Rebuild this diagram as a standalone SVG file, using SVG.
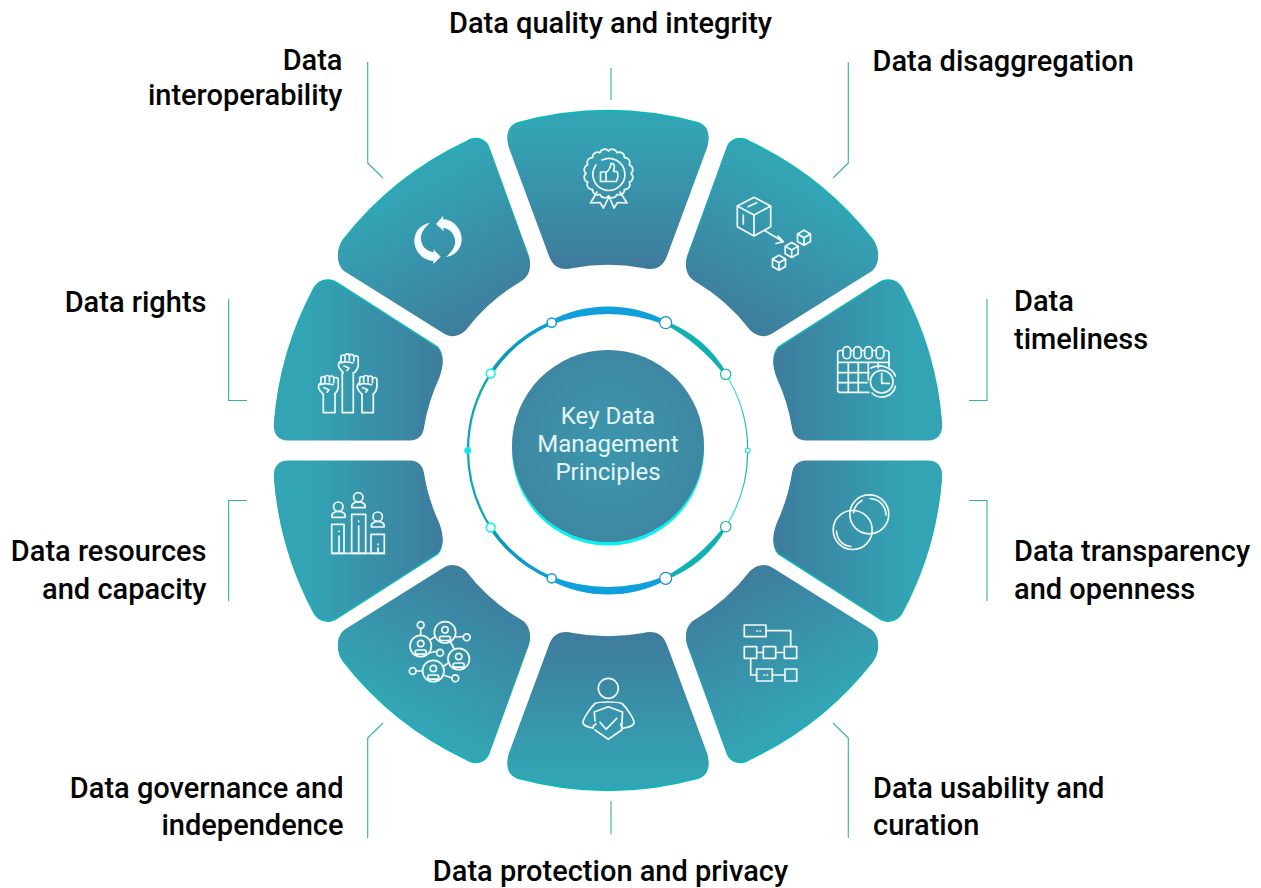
<svg xmlns="http://www.w3.org/2000/svg" xmlns:xlink="http://www.w3.org/1999/xlink" width="1261" height="888" viewBox="0 0 1261 888">
<style>
.lb{font-family:Roboto,"Liberation Sans",sans-serif;font-weight:500;font-size:29px;fill:#050505}
.e{text-anchor:end}.m{text-anchor:middle}
.ct{font-family:Roboto,"Liberation Sans",sans-serif;font-size:24px;fill:#e4f6f7;text-anchor:middle}
.rim{fill:#10b5b8}
.ic{fill:none;stroke:#f1fafa;stroke-width:1.7;stroke-linejoin:round;stroke-linecap:round}
.icf{fill:#f6fbfb;stroke:none}
.ld{fill:none;stroke:#35abb2;stroke-width:1.1}
.nd{fill:#fff}
</style>
<defs>
<linearGradient id="gA" x1="0" y1="0" x2="0" y2="1"><stop offset="0.1" stop-color="#33a4b4"/><stop offset="1" stop-color="#3f7a9c"/></linearGradient>
<linearGradient id="gB" x1="0.75" y1="0.2" x2="0.3" y2="1"><stop offset="0.1" stop-color="#33a5b4"/><stop offset="1" stop-color="#3f7b9c"/></linearGradient>
<linearGradient id="gC" x1="1" y1="0" x2="0" y2="0"><stop offset="0.2" stop-color="#33a4b4"/><stop offset="1" stop-color="#3e7c9d"/></linearGradient>
<radialGradient id="gM"><stop offset="0" stop-color="#3c97ad"/><stop offset="1" stop-color="#3e87a3"/></radialGradient>
<linearGradient id="gBlue" gradientUnits="userSpaceOnUse" x1="552" y1="322" x2="491" y2="374"><stop offset="0" stop-color="#0e9dd8"/><stop offset="1" stop-color="#0f98b4"/></linearGradient>
<linearGradient id="gThin" gradientUnits="userSpaceOnUse" x1="726" y1="374" x2="748" y2="450"><stop offset="0" stop-color="#3ceaea"/><stop offset="1" stop-color="#1ba5ab"/></linearGradient>
<path id="segA" d="M509 147C505 134 509 126 518 123A343 343 0 0 1 698 123C707 126 711 134 707 147L667 255C663 266 655 270 643 267A188 188 0 0 0 573 267C561 270 553 266 549 255Z"/>
<path id="segB" d="M687 257L727 147C731 139 741 136 750 142A340 340 0 0 1 873 240C880 250 880 263 872 270L773 332C766 337 757 336 750 329A190 190 0 0 0 696 281C688 277 684 268 687 257Z"/>
<path id="segC" d="M778 348L878 284C886 278 898 280 903 290A340 340 0 0 1 942 423C943 433 938 440 928 440L806 440C798 440 793 435 792 427A190 190 0 0 0 777 378C773 368 771 356 778 348Z"/>
<g id="fA"><use href="#segA" class="rim" y="-1"/><use href="#segA" fill="url(#gA)" y="1"/></g>
<g id="fB"><use href="#segB" class="rim" y="-1"/><use href="#segB" fill="url(#gB)" y="1"/></g>
<g id="fC"><use href="#segC" class="rim" y="-1.500"/><use href="#segC" fill="url(#gC)" y="0.500"/></g>
<g id="miniCube"><path d="M0 -7.500L6.500 -3.700V3.700L0 7.500L-6.500 3.700V-3.700ZM-6.500 -3.700L0 0L6.500 -3.700M0 0V7.500"/></g>
<g id="fist"><path d="M3 7V3a2 2 0 0 1 4 0V7M7 6V2a2.200 2.200 0 0 1 4.400 0V6M11.400 6V2.500a2.200 2.200 0 0 1 4.400 0V7M15.800 6V4a2.200 2.200 0 0 1 4.400 0V11C20.200 15 18 17 16.500 18.500M3 7C1 8 .5 9 .5 11C.5 14 3 16 5.300 18.500M3 9C6 7 11 8 15 9M6 12L11 14L9 16.500"/></g>
<g id="netP"><circle r="10.700"/><circle cy="-2.500" r="3.200"/><rect x="-5.500" y="4" width="11" height="4.200" rx="2"/></g>
</defs>

<g id="connectors">
<path class="ld" d="M611 68V100"/>
<path class="ld" d="M848.300 62V163L833 178"/>
<path class="ld" d="M367.700 62V163L383 178"/>
<path class="ld" d="M987 299V400.500H969"/>
<path class="ld" d="M228.700 299V400.500H247"/>
<path class="ld" d="M969 500.500H987V601"/>
<path class="ld" d="M247 500.500H228.700V601"/>
<path class="ld" d="M833 723L848.300 738V838"/>
<path class="ld" d="M383 723L367.700 738V838"/>
<path class="ld" d="M611 801V834"/>
</g>

<g id="node-quality">
<use href="#fA"/>
<g class="ic">
<path d="M631 173.500A5 5 0 0 1 629.300 182.100A5 5 0 0 1 624.400 189.400A5 5 0 0 1 617.100 194.300A5 5 0 0 1 608.500 196A5 5 0 0 1 599.900 194.300A5 5 0 0 1 592.600 189.400A5 5 0 0 1 587.700 182.100A5 5 0 0 1 586 173.500A5 5 0 0 1 587.700 164.900A5 5 0 0 1 592.600 157.600A5 5 0 0 1 599.900 152.700A5 5 0 0 1 608.500 151A5 5 0 0 1 617.100 152.700A5 5 0 0 1 624.400 157.600A5 5 0 0 1 629.300 164.900A5 5 0 0 1 631 173.500Z"/>
<path d="M602 160A16 16 0 1 1 596 165"/>
<path d="M600.500 172H606V181.500H600.500ZM606 172.500C610 170 610.500 167 611 163.500C614 163 615 166 614 169L613.500 171.500H617C618.500 173 618 180 616 181.500H606"/>
<path d="M597 192L590.500 203L600 202.500L603.500 208L609 196.500M620 192L627 203L617.500 202.500L614 208L609 196.500"/>
</g>
</g>

<g id="node-disaggregation">
<use href="#fB"/>
<g class="ic">
<path d="M754 197.300L770.700 206V226.700L754 236L737.300 226.700V206ZM737.300 206L754 215L770.700 206M754 215V236"/>
<path d="M748 206.700L756.700 202.700M743.300 215V224M765 230.700L783.300 241.700M778 236L783.300 241.700L776 243.500"/>
<use href="#miniCube" x="804" y="237.700"/>
<use href="#miniCube" x="791.700" y="250"/>
<use href="#miniCube" x="779" y="262.700"/>
</g>
</g>

<g id="node-timeliness">
<use href="#fC"/>
<g class="ic" stroke-width="1.5">
<path d="M842.500 350.500H840C838.500 350.500 837.700 352 837.700 353V390C837.700 391.500 838.700 392.300 840 392.300H869M889 367V353C889 352 888 350.500 886.500 350.500H884"/>
<path d="M851 350.500H853.500M861.500 350.500H864.500M872.500 350.500H876"/>
<rect x="843" y="346.700" width="7.600" height="12" rx="3.800"/>
<rect x="853.700" y="346.700" width="7.600" height="12" rx="3.800"/>
<rect x="864.600" y="346.700" width="7.600" height="12" rx="3.800"/>
<rect x="876.200" y="346.700" width="7.600" height="12" rx="3.800"/>
<path d="M837.700 362.300H889M837.700 372.700H869M837.700 382.700H867M848.300 362.300V392M858.300 362.300V392M868.300 362.300V380M878.300 362.300V368"/>
<circle cx="881.700" cy="381.700" r="11.300"/>
<path d="M881.700 373.300V383.300H889.300M871 368A17 15 0 0 1 895.500 376M895.500 386A14 14 0 0 1 872 393"/>
</g>
</g>

<g id="node-transparency">
<use href="#fC" transform="translate(0,901) scale(1,-1)"/>
<g class="ic" stroke-width="1.5">
<circle cx="869.300" cy="514.300" r="19.500"/>
<circle cx="852.700" cy="530" r="19.500"/>
<path d="M853.500 513A16.500 16.500 0 0 1 862 500.500M870 498.500C880 499 886 507 886 515M836.500 531C837 540 843 546 851 546.500"/>
</g>
</g>

<g id="node-usability">
<use href="#fB" transform="translate(0,901) scale(1,-1)"/>
<g class="ic">
<rect x="744.300" y="625" width="21.700" height="11.700"/>
<path d="M766 630.700H790.700V646.700M756.700 652.500H763.300M775.700 652.500H784.300M750.700 658.300V675H756.700M772.300 675H785M757 631H757.500M760 631H760.500M764 675H764.500M767 675H767.500"/>
<rect x="744.300" y="646.700" width="12.400" height="11.600"/>
<rect x="763.300" y="646.700" width="12.400" height="11.600"/>
<rect x="784.300" y="646.700" width="12.400" height="11.600"/>
<rect x="756.700" y="669" width="15.600" height="12"/>
<rect x="785" y="669" width="11.700" height="12"/>
</g>
</g>

<g id="node-protection">
<use href="#fA" transform="translate(0,901) scale(1,-1)"/>
<g class="ic">
<circle cx="608.300" cy="688.300" r="10"/>
<path d="M593 728C588 727 583 726 583 722.500C583 719 590 708 595 703.500C597 702.500 600 702 608.300 702C616 702 620 702.500 622 703.500C627 708 634 719 634 722.500C634 726 629 727 624 728C622 729 621.500 727 620.500 724"/>
<path d="M596 724C594 725 593 727 593 728M595 721L594.300 712L608.300 706.700L622.500 712L621.700 730L608.300 739.300L595 730"/>
<path d="M600 722.300L606 729.300L616.700 718.300"/>
</g>
</g>

<g id="node-governance">
<use href="#fB" transform="translate(1216,901) scale(-1,-1)"/>
<g class="ic">
<use href="#netP" x="445" y="632.300"/>
<use href="#netP" x="420.700" y="646"/>
<use href="#netP" x="458.700" y="659"/>
<use href="#netP" x="433.300" y="671"/>
<circle cx="420.700" cy="625" r="3.400"/>
<circle cx="466.700" cy="637.300" r="3.400"/>
<circle cx="440" cy="652.700" r="3.400"/>
<circle cx="412.700" cy="671" r="3.400"/>
<circle cx="455.300" cy="678.300" r="3.400"/>
<path d="M420.700 628.400V635.300M455 637L463.300 636.500M430 640L435.500 636.500M429 653L437.500 651M450.500 642L454 648.500M444 666L449 662.500M416 671H422.500M443 675L452 678"/>
</g>
</g>

<g id="node-resources">
<use href="#fC" transform="translate(1216,901) scale(-1,-1)"/>
<g class="ic">
<rect x="331.700" y="524.300" width="12.300" height="29"/>
<rect x="351.700" y="514.300" width="14" height="39"/>
<rect x="371" y="534.300" width="13.300" height="19"/>
<path d="M331.700 553.300H384.300M339 536V552M358.700 526V552M378 548V552M339 531V531.500M358.700 521V521.500M378 544V544.500"/>
<circle cx="338.300" cy="506.700" r="4.700"/><path d="M332 517.300C331 513 335 511.500 338.300 511.500C342 511.500 346 513 345 517.300Z"/>
<circle cx="358.300" cy="497.300" r="4.700"/><path d="M352 507.700C351 503.500 355 502 358.300 502C362 502 366 503.500 365 507.700Z"/>
<circle cx="377.700" cy="516.700" r="4.700"/><path d="M371.500 527C370.500 523 374.500 521.500 377.700 521.500C381 521.500 385 523 384 527Z"/>
</g>
</g>

<g id="node-rights">
<use href="#fC" transform="translate(1216,0) scale(-1,1)"/>
<g class="ic" stroke-width="1.5">
<use href="#fist" x="318" y="375.700"/>
<use href="#fist" x="338" y="354"/>
<use href="#fist" x="356.700" y="375.700"/>
<path d="M323.300 394V412.700H335V394M342.300 372.500V412.700H353.300V372.500M362 394V412.700H373.300V394"/>
</g>
</g>

<g id="node-interoperability">
<use href="#fB" transform="translate(1216,0) scale(-1,1)"/>
<path class="icf" d="M443.300 215.700L436 224L444 231.500L443 228C449 228.500 454 233 455 240C456 246 452 252 446 257C454 256 461 250 461.700 240C462 230 455 220 443 219Z"/>
<path class="icf" d="M433.300 264.300L440.700 256.700L433.300 249L434 252C427 251.500 422 247 421 240C420 234 424 228 430 223C422 224 415 230 414.300 240C414 250 421 260 433.500 261Z"/>
</g>

<g id="center">
<circle cx="608" cy="449.500" r="96" fill="#0df0f0"/>
<circle cx="608" cy="446" r="96" fill="url(#gM)"/>
<text class="ct" x="608" y="424">Key Data</text>
<text class="ct" x="608" y="452">Management</text>
<text class="ct" x="608" y="480">Principles</text>
<g id="ring-half">
<path fill="#0e9fdc" d="M550.200 320.800A124 124 0 0 1 665.800 320.800L664.100 324.500A155 155 0 0 0 551.900 324.500Z"/>
<path fill="#12b1b1" d="M665.600 321.200A114 114 0 0 1 726.700 373.400L724.200 375.100A187 187 0 0 0 664.300 324Z"/>
<path fill="none" stroke="url(#gBlue)" stroke-width="3.500" d="M551.700 322.700A140 140 0 0 0 490.700 373.500"/>
<path fill="none" stroke="#10a9b3" stroke-width="2.300" d="M490.700 373.500A140 140 0 0 0 468 450.500"/>
<path fill="none" stroke="url(#gThin)" stroke-width="1.200" d="M725.700 374.300A140 140 0 0 1 747.700 450.500"/>
<circle class="nd" cx="665.700" cy="322.700" r="6" stroke="#1a8fc9" stroke-width="1.200"/>
<circle class="nd" cx="551.700" cy="322.700" r="4.600" stroke="#0e9dd6" stroke-width="1.500"/>
<circle class="nd" cx="725.700" cy="374.300" r="5.200" stroke="#14b4b4" stroke-width="1.200"/>
<circle class="nd" cx="490.700" cy="373.500" r="4.400" stroke="#1cf0f0" stroke-width="1.600"/>
</g>
<use href="#ring-half" transform="translate(0,901) scale(1,-1)"/>
<circle cx="467.700" cy="450.500" r="3.400" fill="#14e6ea"/>
<circle class="nd" cx="747.700" cy="450.500" r="2.400" stroke="#2fdede" stroke-width="1.200"/>
</g>

<g id="labels">
<text class="lb m" x="610.500" y="33">Data quality and integrity</text>
<text class="lb" x="872.500" y="71">Data disaggregation</text>
<text class="lb e" x="342.500" y="70">Data</text>
<text class="lb e" x="342.500" y="105">interoperability</text>
<text class="lb e" x="206.500" y="312">Data rights</text>
<text class="lb" x="1014" y="311">Data</text>
<text class="lb" x="1014" y="349">timeliness</text>
<text class="lb e" x="206.500" y="561">Data resources</text>
<text class="lb e" x="206.500" y="599">and capacity</text>
<text class="lb" x="1014" y="561">Data transparency</text>
<text class="lb" x="1014" y="599">and openness</text>
<text class="lb e" x="343.500" y="798">Data governance and</text>
<text class="lb e" x="343.500" y="835">independence</text>
<text class="lb" x="873" y="798">Data usability and</text>
<text class="lb" x="873" y="835">curation</text>
<text class="lb m" x="610.500" y="881">Data protection and privacy</text>
</g>
</svg>
